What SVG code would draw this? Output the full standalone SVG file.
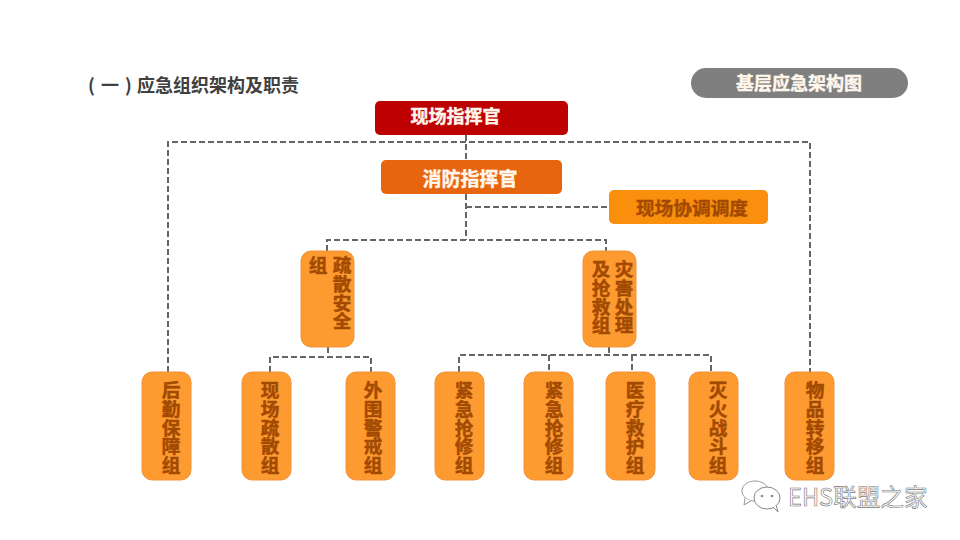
<svg xmlns="http://www.w3.org/2000/svg" width="960" height="540" viewBox="0 0 960 540">
<style>
text{font-family:"Noto Sans CJK SC","Liberation Sans",sans-serif;font-weight:700}
.h{font-size:18px;text-anchor:middle;stroke-width:.4}
.w{fill:#fff6ec;stroke:#fff6ec}
.v{font-size:18.6px;fill:#a34a02;stroke:#a34a02;stroke-width:.5;writing-mode:vertical-rl;text-orientation:upright}
.o{fill:#fd9a30;stroke:#f0923a;stroke-width:1}
.c{fill:none;stroke:#666;stroke-width:2;stroke-dasharray:6 3}
</style>
<rect width="960" height="540" fill="#fff"/>
<g id="title" font-size="18" fill="#404040"><text x="88" y="92">(</text><text x="101" y="92">一</text><text x="125" y="92">)</text><text x="137" y="92">应急组织架构及职责</text></g>
<g id="connectors">
<path class="c" d="M466 135V160M168 372V142H810V372"/>
<path class="c" d="M466 194V240M466 207H609M327 251V240H606V251"/>
<path class="c" d="M328 347V357M270 372V357H371V372"/>
<path class="c" d="M609 347V355M459 372V355H711V372M549 355V372M632 355V372"/>
</g>
<g id="n-tag"><rect x="691" y="68" width="217" height="30" rx="15" fill="#7f7f7f"/><text class="h w" x="799" y="90">基层应急架构图</text></g>
<g id="n-cmd"><rect x="375" y="101" width="193" height="34" rx="5" fill="#bd0000"/><text class="h w" x="455.500" y="123">现场指挥官</text></g>
<g id="n-fire"><rect x="381" y="160" width="181" height="34" rx="5" fill="#e8650f"/><text class="h w" x="470" y="186" style="font-size:19px">消防指挥官</text></g>
<g id="n-coord"><rect x="609" y="190" width="159" height="34" rx="5" fill="#f98f0c"/><text class="h" fill="#a34a02" stroke="#a34a02" x="692" y="215" style="font-size:18.7px">现场协调调度</text></g>
<g id="n-evac"><rect class="o" x="301" y="251" width="53" height="96" rx="10"/><text class="v" x="342" y="256">疏散安全</text><text class="v" x="318" y="256">组</text></g>
<g id="n-rescue"><rect class="o" x="583" y="251" width="53" height="96" rx="10"/><text class="v" x="624" y="260">灾害处理</text><text class="v" x="601" y="260">及抢救组</text></g>
<g id="n-a"><rect class="o" x="142" y="372" width="49" height="108" rx="10"/><text class="v" x="171" y="381">后勤保障组</text></g>
<g id="n-b"><rect class="o" x="242" y="372" width="49" height="108" rx="10"/><text class="v" x="270" y="381">现场疏散组</text></g>
<g id="n-c"><rect class="o" x="346" y="372" width="49" height="108" rx="10"/><text class="v" x="373" y="381">外围警戒组</text></g>
<g id="n-d"><rect class="o" x="435" y="372" width="49" height="108" rx="10"/><text class="v" x="464" y="381">紧急抢修组</text></g>
<g id="n-e"><rect class="o" x="524" y="372" width="49" height="108" rx="10"/><text class="v" x="554" y="381">紧急抢修组</text></g>
<g id="n-f"><rect class="o" x="606" y="372" width="49" height="108" rx="10"/><text class="v" x="635" y="381">医疗救护组</text></g>
<g id="n-g"><rect class="o" x="689" y="372" width="49" height="108" rx="10"/><text class="v" x="718" y="381">灭火战斗组</text></g>
<g id="n-h"><rect class="o" x="785" y="372" width="49" height="108" rx="10"/><text class="v" x="815" y="381">物品转移组</text></g>
<g id="watermark">
<path d="M757 501C748 502 741 496 742 490C743 484 749 481 755 481C761 481 766 484 768 488" fill="#fff" stroke="#999" stroke-width="1"/>
<path d="M745 498L744 505L751 501" fill="#fff" stroke="#999" stroke-width="1"/>
<ellipse cx="767" cy="498" rx="13" ry="11" fill="#fff" stroke="#888" stroke-width="1"/>
<path d="M773 507L778 512L776 505" fill="#fff" stroke="#888" stroke-width="1"/>
<circle cx="762" cy="496" r="1.3" fill="#888"/><circle cx="772" cy="496" r="1.3" fill="#888"/>
<text x="788" y="506" font-size="23.600" fill="#fff" stroke="#777" stroke-width=".6" style="font-weight:400">EHS联盟之家</text>
</g>
</svg>
